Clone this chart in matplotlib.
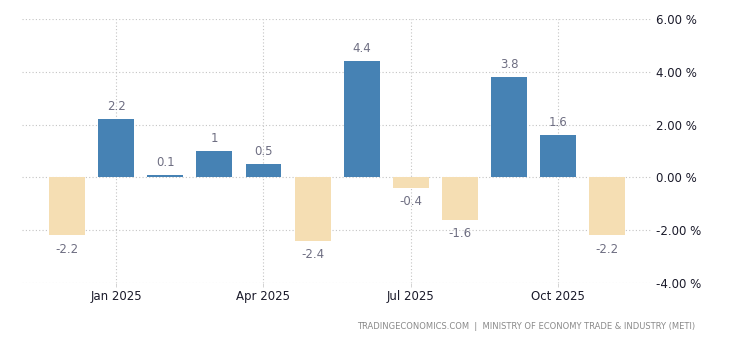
import matplotlib.pyplot as plt
import numpy as np

months = ["Dec 2024", "Jan 2025", "Feb 2025", "Mar 2025", "Apr 2025", "May 2025",
          "Jun 2025", "Jul 2025", "Aug 2025", "Sep 2025", "Oct 2025", "Nov 2025"]
values = [-2.2, 2.2, 0.1, 1.0, 0.5, -2.4, 4.4, -0.4, -1.6, 3.8, 1.6, -2.2]
labels = ["-2.2", "2.2", "0.1", "1", "0.5", "-2.4", "4.4", "-0.4", "-1.6", "3.8", "1.6", "-2.2"]
tick_months = ["Jan 2025", "Apr 2025", "Jul 2025", "Oct 2025"]
yticks = [-4, -2, 0, 2, 4, 6]

x = np.arange(len(months))
colors = ["#4682b4" if v >= 0 else "#f5deb3" for v in values]

fig = plt.figure(figsize=(7.3, 3.4), dpi=100)
ax = fig.add_axes([0.030, 0.168, 0.863, 0.776])

ax.bar(x, values, width=0.73, color=colors, zorder=2)

for xi, v, lab in zip(x, values, labels):
    dy = 9 if v >= 0 else -10
    ax.annotate(lab, (xi, v), xytext=(0, dy), textcoords="offset points",
                ha="center", va="center", fontsize=8.5, color="#6e6e82")

ax.set_xlim(-0.92, 11.91)
ax.set_ylim(-4, 6)
ax.set_xticks([months.index(m) for m in tick_months])
ax.set_xticklabels(tick_months)
ax.set_yticks(yticks)
ax.set_yticklabels([f"{t:.2f} %" for t in yticks])
ax.yaxis.tick_right()

ax.grid(True, linestyle=(0, (1, 2)), color="#c4c4c4", linewidth=0.8, zorder=0)
for s in ax.spines.values():
    s.set_visible(False)
ax.tick_params(axis="y", length=0, labelsize=8.5, colors="#1a1a2a", pad=3)
ax.tick_params(axis="x", length=3, width=0.6, color="#cccccc", labelsize=8.5,
               labelcolor="#1a1a2a", pad=2)

fig.text(0.952, 0.040, "TRADINGECONOMICS.COM  |  MINISTRY OF ECONOMY TRADE & INDUSTRY (METI)",
         ha="right", va="center", fontsize=6, color="#8a8a8a")

fig.savefig("out.png", dpi=100)
